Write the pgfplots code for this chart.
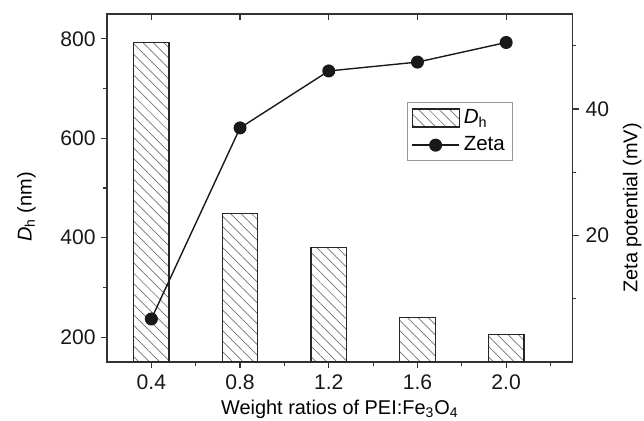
\documentclass[border=0pt]{standalone}
\usepackage{pgfplots}
\pgfplotsset{compat=1.18}
\usepackage{fontspec}
\setmainfont{Liberation Sans}
\usetikzlibrary{patterns.meta,calc}
\pgfplotsset{
  mylineleg/.style={legend image code/.code={\draw[mark repeat=2,mark phase=2,##1] plot coordinates {(0bp,0bp) (11.75bp,0bp) (23.5bp,0bp)};}},
}
\begin{document}
\begin{tikzpicture}
\pgfplotsset{
  every axis/.append style={
    scale only axis, width=232.85bp, height=174bp,
    xmin=0.2, xmax=2.3,
    axis line style={line width=0.7pt, black!80},
    every tick/.style={black!80, line width=0.6pt},
    major tick length=3bp, minor tick length=1.8bp,
    tick label style={font=\fontsize{10.6}{12}\selectfont, black!90},
    label style={font=\fontsize{10.2}{12}\selectfont, black!90},
    /pgf/number format/assume math mode=true,
  },
}
\begin{axis}[
  name=main,
  ymin=150, ymax=850,
  tick align=outside,
  xtick pos=bottom, ytick pos=left,
  xtick={0.4,0.8,1.2,1.6,2.0},
  minor xtick={0.6,1.0,1.4,1.8,2.2},
  xticklabels={0.4,0.8,1.2,1.6,2.0},
  ytick={200,400,600,800},
  minor ytick={300,500,700},
  yticklabel style={xshift=0.8bp},
  xlabel={Weight ratios of PEI:Fe\textsubscript{3}O\textsubscript{4}},
  every axis x label/.style={at={(axis description cs:0.5,-0.152)}, anchor=base},
  ylabel={\textit{D}\textsubscript{h} (nm)},
  every axis y label/.style={at={(axis description cs:-0.173,0.445)}, rotate=90, anchor=center},
]
\addplot[ybar, bar width=0.16, draw=black!85, line width=0.6pt,
  pattern={Lines[angle=-45,distance=3.7pt,line width=0.35pt]}, pattern color=black!55]
  coordinates {(0.4,793) (0.8,448) (1.2,381) (1.6,239) (2.0,205)};
\end{axis}
\begin{axis}[
  ymin=0, ymax=55,
  axis y line*=right, axis x line=none,
  tick align=outside,
  ytick={20,40},
  minor ytick={10,30,50},
  ylabel={Zeta potential (mV)},
  every axis y label/.style={at={(axis description cs:1.128,0.443)}, rotate=90, anchor=center},
  legend style={at={(0.644,0.747)}, anchor=north west, draw=black!40, line width=0.5pt,
    font=\fontsize{10.3}{12}\selectfont, inner xsep=2bp, inner ysep=1.5bp, row sep=1bp},
  legend cell align=left,
]
\addlegendimage{legend image code/.code={\draw[black!85,line width=0.6pt,pattern={Lines[angle=-45,distance=3.7pt,line width=0.35pt]},pattern color=black!55] (0bp,-4.5bp) rectangle (23.5bp,4.5bp);}}
\addlegendentry{\textit{D}\textsubscript{h}}
\addplot[black!90, line width=0.7pt, mark=*, mark size=2.9bp, mylineleg]
  coordinates {(0.4,6.8) (0.8,37) (1.2,46) (1.6,47.4) (2.0,50.5)};
\addlegendentry{Zeta}
\end{axis}
\begin{axis}[
  ymin=0, ymax=1,
  axis x line*=top, axis y line=none,
  tick align=inside,
  xtick={0.4,0.8,1.2,1.6,2.0},
  xticklabels={},
]
\end{axis}
\pgfresetboundingbox
\path ($(main.south west)+(-53.5bp,-29.5bp)$) rectangle ($(main.north east)+(35.65bp,7bp)$);
\end{tikzpicture}
\end{document}
